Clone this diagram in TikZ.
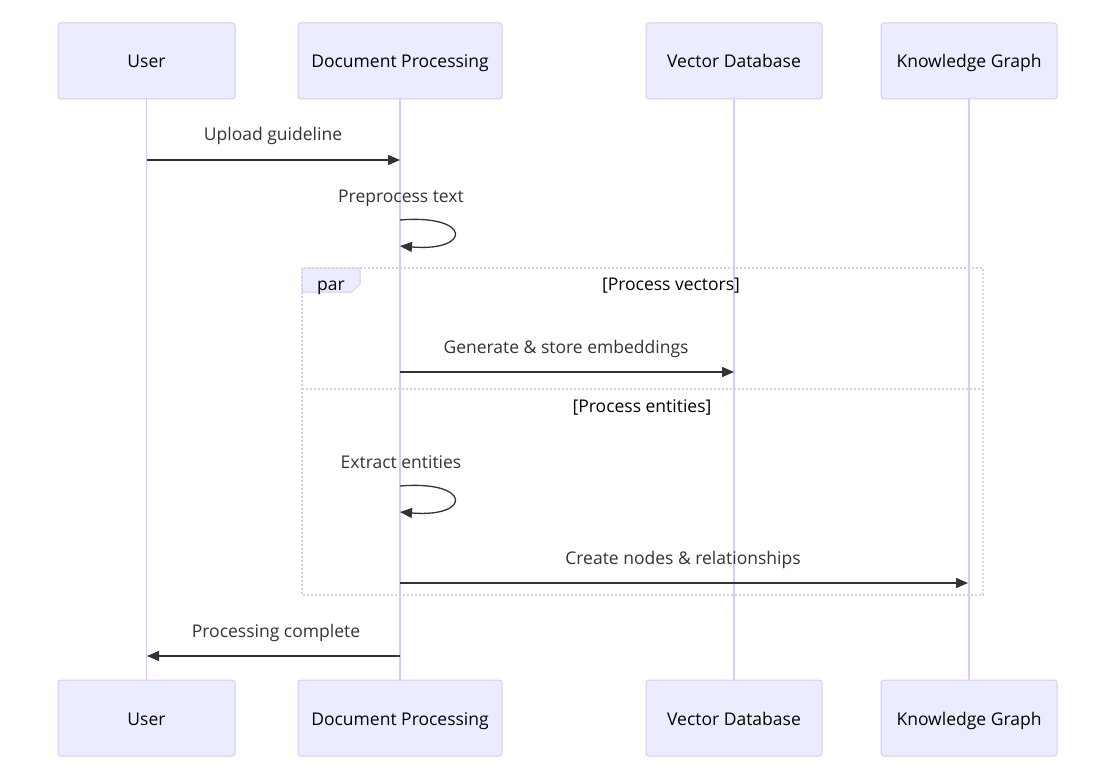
\documentclass[tikz,border=0pt]{standalone}
\usepackage{fontspec}
\setmainfont{Open Sans}
\usetikzlibrary{arrows.meta}
\definecolor{actfill}{HTML}{ECECFF}
\definecolor{actline}{HTML}{D6CCF4}
\definecolor{msg}{HTML}{333333}
\tikzset{
  actor/.style={draw=actline, fill=actfill, line width=1pt, rounded corners=3pt, minimum height=76pt, inner sep=0pt, font=\fontsize{17.5}{20}\selectfont, text=black, text height=18pt, text depth=4pt},
  life/.style={draw=actline, line width=1.8pt},
  msgline/.style={draw=msg, line width=1.3pt, -{Triangle[length=12pt,width=10pt]}},
  msgtext/.style={text=msg, font=\fontsize{17.5}{20}\selectfont, inner sep=0pt, text height=18pt, text depth=4pt},
  frame/.style={draw=actline, line width=1.8pt, dash pattern=on 2pt off 2pt},
  framl/.style={text=black, font=\fontsize{17.5}{20}\selectfont, inner sep=0pt, text height=18pt, text depth=4pt}
}
\begin{document}
\begin{tikzpicture}[x=1pt,y=-1pt]
\useasboundingbox (0,0) rectangle (1116,781);
% actors top
\node[actor, minimum width=177pt] (ut) at (146.5,61) {User};
\node[actor, minimum width=204pt] (dt) at (400,61) {Document Processing};
\node[actor, minimum width=176pt] (vt) at (734,61) {Vector Database};
\node[actor, minimum width=176pt] (kt) at (969,61) {Knowledge Graph};
% actors bottom
\node[actor, minimum width=177pt] (ub) at (146.5,718) {User};
\node[actor, minimum width=204pt] (db) at (400,718) {Document Processing};
\node[actor, minimum width=176pt] (vb) at (734,718) {Vector Database};
\node[actor, minimum width=176pt] (kb) at (969,718) {Knowledge Graph};
% lifelines
\draw[life] (ut.south) -- (ub.north);
\draw[life] (dt.south) -- (db.north);
\draw[life] (vt.south) -- (vb.north);
\draw[life] (kt.south) -- (kb.north);
% par frame
\draw[frame] (302,268) rectangle (983,595);
\draw[frame] (302,389) -- (983,389);
\filldraw[fill=actfill, draw=actline, line width=1pt] (302,268) -- (360,268) -- (360,284) -- (352,292) -- (302,292) -- cycle;
\node[framl] (parl) at (331,283) {par};
\node[framl] (pv) at (671,283) {[Process vectors]};
\node[framl] (pe) at (642,405) {[Process entities]};
% coordinates on lifelines
\coordinate (u1) at (147,160);
\coordinate (d1) at (400,160);
\coordinate (d2a) at (400,220);
\coordinate (d2b) at (400,246);
\coordinate (d3) at (400,372);
\coordinate (v3) at (734,372);
\coordinate (d4a) at (400,486);
\coordinate (d4b) at (400,512);
\coordinate (d5) at (400,583);
\coordinate (k5) at (968,583);
\coordinate (d6) at (400,656);
\coordinate (u6) at (147,656);
% messages
\node[msgtext] (t1) at (273,134) {Upload guideline};
\draw[msgline] (u1) -- (d1);
\node[msgtext] (t2) at (401,195) {Preprocess text};
\draw[msgline] (d2a) .. controls (472,214) and (472,252) .. (d2b);
\node[msgtext] (t3) at (566,346) {Generate \& store embeddings};
\draw[msgline] (d3) -- (v3);
\node[msgtext] (t4) at (401,461) {Extract entities};
\draw[msgline] (d4a) .. controls (472,480) and (472,518) .. (d4b);
\node[msgtext] (t5) at (683,557) {Create nodes \& relationships};
\draw[msgline] (d5) -- (k5);
\node[msgtext] (t6) at (276,630) {Processing complete};
\draw[msgline] (d6) -- (u6);
\end{tikzpicture}
\end{document}
